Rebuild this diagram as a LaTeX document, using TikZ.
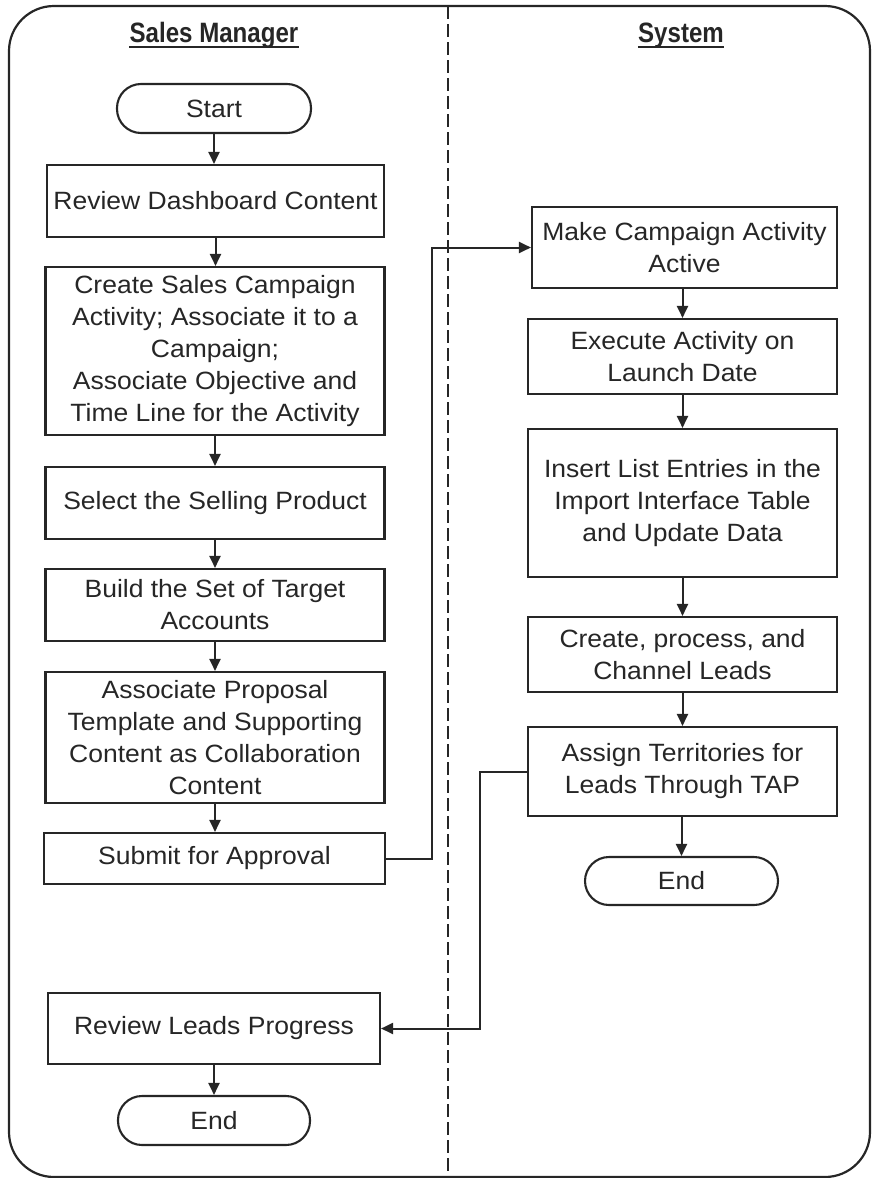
\documentclass[tikz,border=0pt]{standalone}
\usepackage{fontspec}
\setmainfont{Liberation Sans}
\newfontfamily\boxfont[FakeStretch=1.06]{Liberation Sans}
\newfontfamily\headfont[FakeStretch=0.86]{Liberation Sans}
\usetikzlibrary{arrows.meta}
\definecolor{ink}{HTML}{262626}
\tikzset{
  stepbox/.style={draw=ink, line width=2.1pt, rectangle, inner sep=0pt,
    align=center, text=ink, font=\boxfont\fontsize{25}{32}\selectfont},
  termbox/.style={stepbox, rounded corners=24pt},
  flow/.style={draw=ink, line width=2pt, -{Triangle[length=12pt,width=11pt]}},
  lanehead/.style={text=ink, inner sep=0pt, anchor=base,
    font=\headfont\bfseries\fontsize{28}{32}\selectfont},
}
\begin{document}
\begin{tikzpicture}[x=1pt,y=-1pt]
\useasboundingbox (0,0) rectangle (872,1178);

% swimlane frame and lane divider
\draw[ink, line width=2.2pt, rounded corners=45pt] (9,6) rectangle (870,1177);
\draw[ink, line width=2.2pt, dash pattern=on 13pt off 5pt] (448,6) -- (448,1177);

% lane headings
\node[lanehead] (hsm) at (214,42) {Sales Manager};
\node[lanehead] (hsy) at (681,42) {System};
\draw[ink, line width=2.4pt] ([yshift=-5pt]hsm.base west) -- ([yshift=-5pt]hsm.base east);
\draw[ink, line width=2.4pt] ([yshift=-5pt]hsy.base west) -- ([yshift=-5pt]hsy.base east);

% Sales Manager lane
\node[termbox, minimum width=194pt, minimum height=49pt] (start) at (214,108.5) {Start};
\node[stepbox, minimum width=337pt, minimum height=72pt] (dash) at (215.5,201) {Review Dashboard Content};
\node[stepbox, minimum width=339pt, minimum height=168pt] (create) at (215,351)
  {Create Sales Campaign\\Activity; Associate it to a\\Campaign;\\Associate Objective and\\Time Line for the Activity};
\node[stepbox, minimum width=339pt, minimum height=72pt] (select) at (215,503) {Select the Selling Product};
\node[stepbox, minimum width=339pt, minimum height=72pt] (build) at (215,605) {Build the Set of Target\\Accounts};
\node[stepbox, minimum width=339pt, minimum height=131pt] (assoc) at (215,737.5)
  {Associate Proposal\\Template and Supporting\\Content as Collaboration\\Content};
\node[stepbox, minimum width=341pt, minimum height=51pt] (submit) at (214.5,858.5) {Submit for Approval};
\node[stepbox, minimum width=332pt, minimum height=71pt] (review) at (214,1028.5) {Review Leads Progress};
\node[termbox, minimum width=192pt, minimum height=49pt] (endl) at (214,1120.5) {End};

% System lane
\node[stepbox, minimum width=305pt, minimum height=81pt] (make) at (684.5,247.5) {Make Campaign Activity\\Active};
\node[stepbox, minimum width=309pt, minimum height=75pt] (exec) at (682.5,356.5) {Execute Activity on\\Launch Date};
\node[stepbox, minimum width=309pt, minimum height=148pt] (insert) at (682.5,503)
  {Insert List Entries in the\\Import Interface Table\\and Update Data};
\node[stepbox, minimum width=309pt, minimum height=75pt] (chan) at (682.5,654.5) {Create, process, and\\Channel Leads};
\node[stepbox, minimum width=309pt, minimum height=89pt] (assign) at (682.5,771.5) {Assign Territories for\\Leads Through TAP};
\node[termbox, minimum width=193pt, minimum height=48pt] (endr) at (681.5,881) {End};

% connectors within the Sales Manager lane
\draw[flow] (start.south) -- (start.south |- dash.north);
\draw[flow] (dash.south) -- (dash.south |- create.north);
\draw[flow] (create.south) -- (create.south |- select.north);
\draw[flow] (select.south) -- (select.south |- build.north);
\draw[flow] (build.south) -- (build.south |- assoc.north);
\draw[flow] (assoc.south) -- (assoc.south |- submit.north);
\draw[flow] (review.south) -- (review.south |- endl.north);

% connectors within the System lane
\draw[flow] (exec.north |- make.south) -- (exec.north);
\draw[flow] (exec.south) -- (exec.south |- insert.north);
\draw[flow] (insert.south) -- (insert.south |- chan.north);
\draw[flow] (chan.south) -- (chan.south |- assign.north);
\draw[flow] (assign.south -| endr.north) -- (endr.north);

% hand-offs between lanes
\coordinate (up) at (432,858.5);
\coordinate (down) at (480,771.5);
\draw[flow] (submit.east) -- (up) -- (up |- make.west) -- (make.west);
\draw[flow] (assign.west) -- (down) -- (down |- review.east) -- (review.east);
\end{tikzpicture}
\end{document}
